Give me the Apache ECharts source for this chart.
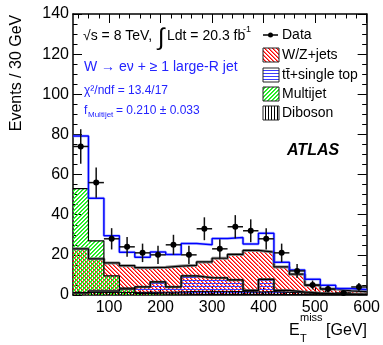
<!DOCTYPE html>
<html>
<head>
<meta charset="utf-8">
<script src="https://cdn.jsdelivr.net/npm/echarts@6/dist/echarts.min.js"></script>
<style>
html, body {margin: 0; padding: 0; background: #fff;}
#met_chart {width: 383px; height: 345px;}
</style>
</head>
<body>
<div id="met_chart"></div>
<script>
//*************** data (E_T^miss, 30 GeV bins) ***************
var bin_low = [30, 60, 90, 120, 150, 180, 210, 240, 270, 300, 330, 360, 390, 420, 450, 480, 510, 540, 570];
var bin_width = 30;
var data_events = [74, 56, 28, 24, 21, 20, 25, 20, 33, 23, 34, 32, 28, 21, 12, 5, 3, 1, 4];
var data_error = [8.6, 7.5, 5.3, 4.9, 4.6, 4.5, 5.0, 4.5, 5.7, 4.8, 5.8, 5.7, 5.3, 4.6, 3.5, 2.2, 1.7, 1.0, 2.0];
var wz_jets = [23, 18, 16, 14.6, 13.6, 13.8, 14.4, 14.8, 16.5, 18.3, 20.2, 22.2, 21.4, 14, 10.4, 4.8, 3, 2.1, 1.7];
var ttbar_top = [1, 2, 2, 3, 4, 6.5, 4, 9.5, 8.6, 8.5, 7.5, 2.3, 7.8, 2.3, 1.5, 1, 0.6, 0.5, 0.3];
var multijet = [53, 27, 9.5, 3.5, 0.8, 0.5, 0.5, 0.3, 0.3, 0.3, 0.3, 0.3, 0.3, 0.2, 0.2, 0.1, 0.1, 0.1, 0.1];
var diboson = [1.2, 1.2, 1.3, 1.3, 1.4, 1.4, 1.5, 1.8, 1.8, 1.8, 1.7, 1.5, 1.7, 1.3, 1, 0.7, 0.5, 0.3, 0.3];
var total_sm = [79.2, 48.2, 29.5, 21.3, 18.8, 21.4, 20.2, 25.7, 25, 28.1, 28.7, 25.4, 30.8, 16.3, 12.4, 7.8, 4.8, 3.2, 2.7];
var x_tick_labels = [100, 200, 300, 400, 500, 600];
var x_minor_ticks = [40, 60, 80, 120, 140, 160, 180, 220, 240, 260, 280, 320, 340, 360, 380, 420, 440, 460, 480, 520, 540, 560, 580];

var font = '"Liberation Sans", Arial, Helvetica, sans-serif';
var blue_txt = '#2424ff';

//*************** hatch patterns (pixel tiles) ***************
function make_hatch(rgb, kind, size, side_alpha) {
    var c = document.createElement('canvas');
    c.width = size;
    c.height = size;
    var ctx = c.getContext('2d');
    for (var i = 0; i < size; i++) {
        if (kind === 'h') {
            ctx.fillStyle = 'rgb(' + rgb + ')';
            ctx.fillRect(i, 1, 1, 1);
        } else if (kind === 'v') {
            ctx.fillStyle = 'rgb(' + rgb + ')';
            ctx.fillRect(1, i, 1, 1);
        } else {
            var y = kind === 'f' ? size - 1 - i : i;
            ctx.fillStyle = 'rgb(' + rgb + ')';
            ctx.fillRect(i, y, 1, 1);
            ctx.fillStyle = 'rgba(' + rgb + ',' + side_alpha + ')';
            ctx.fillRect((i + 1) % size, y, 1, 1);
        }
    }
    return {image: c, repeat: 'repeat'};
}

var pat_wz = make_hatch('255,0,0', 'b', 4, 0.55);
var pat_tt = make_hatch('60,60,255', 'h', 3);
var pat_mj = make_hatch('30,235,30', 'f', 4, 0.9);
var pat_db = make_hatch('0,0,0', 'v', 3);

//*************** series builders ***************
function hist_fill(values, pattern, z) {
    return {
        type: 'custom', z: z, silent: true, animation: false,
        data: bin_low.map(function (lo, i) { return [lo, lo + bin_width, values[i]]; }),
        encode: {x: [0, 1], y: 2},
        renderItem: function (params, api) {
            var p0 = api.coord([api.value(0), 0]);
            var p1 = api.coord([api.value(1), api.value(2)]);
            return {
                type: 'rect',
                shape: {x: p0[0], y: p1[1], width: p1[0] - p0[0], height: p0[1] - p1[1]},
                style: {fill: pattern}
            };
        }
    };
}

function hist_line(values, color, width, z) {
    var pts = bin_low.map(function (lo, i) { return [lo, values[i]]; });
    pts.push([bin_low[bin_low.length - 1] + bin_width, values[values.length - 1]]);
    return {
        type: 'line', step: 'end', data: pts, symbol: 'none', silent: true, z: z, animation: false,
        lineStyle: {color: color, width: width}
    };
}

var data_series = {
    type: 'custom', z: 20, silent: true, animation: false,
    data: bin_low.map(function (lo, i) { return [lo + bin_width / 2, data_events[i], data_error[i]]; }),
    encode: {x: 0, y: 1},
    renderItem: function (params, api) {
        var x = api.value(0), y = api.value(1), e = api.value(2);
        var c = api.coord([x, y]);
        var top = api.coord([x, y + e]);
        var bot = api.coord([x, Math.max(0, y - e)]);
        var l = api.coord([x - bin_width / 2, y]);
        var r = api.coord([x + bin_width / 2, y]);
        return {
            type: 'group',
            children: [
                {type: 'line', shape: {x1: c[0], y1: top[1], x2: c[0], y2: bot[1]}, style: {stroke: '#111', lineWidth: 1.5}},
                {type: 'line', shape: {x1: l[0], y1: c[1], x2: r[0], y2: c[1]}, style: {stroke: '#111', lineWidth: 1.5}},
                {type: 'circle', shape: {cx: c[0], cy: c[1], r: 3}, style: {fill: '#000'}}
            ]
        };
    }
};

//*************** axes ***************
function x_axis(pos, labels) {
    return [{
        type: 'value', position: pos, min: 30, max: 600,
        axisLine: {show: true, onZero: false, lineStyle: {color: '#000', width: 1.5}},
        axisTick: {inside: true, length: 9, customValues: x_tick_labels, lineStyle: {color: '#000', width: 1}},
        axisLabel: {show: labels, customValues: x_tick_labels, color: '#000', fontSize: 16, fontFamily: font, margin: 5},
        splitLine: {show: false}
    }, {
        type: 'value', position: pos, min: 30, max: 600,
        axisLine: {show: false, onZero: false},
        axisTick: {inside: true, length: 4.5, customValues: x_minor_ticks, lineStyle: {color: '#000', width: 1}},
        axisLabel: {show: false},
        splitLine: {show: false}
    }];
}

function y_axis(pos, labels) {
    return {
        type: 'value', position: pos, min: 0, max: 140, interval: 20,
        axisLine: {show: true, onZero: false, lineStyle: {color: '#000', width: 1.5}},
        axisTick: {inside: true, length: 9, lineStyle: {color: '#000', width: 1}},
        minorTick: {show: true, splitNumber: 4, length: 4.5, lineStyle: {color: '#000', width: 1}},
        axisLabel: {show: labels, color: '#000', fontSize: 16, fontFamily: font, margin: 4},
        splitLine: {show: false},
        minorSplitLine: {show: false}
    };
}

//*************** legend & labels ***************
function txt(x, y, s, size, color, extra) {
    var o = {
        type: 'text', x: x, y: y, z: 100,
        style: {text: s, fill: color || '#000', fontSize: size, fontFamily: font,
                textAlign: 'left', textVerticalAlign: 'middle', align: 'left', verticalAlign: 'middle'}
    };
    if (extra) { for (var k in extra) { o.style[k] = extra[k]; } }
    return o;
}

function legend_box(y, pattern, label) {
    return [
        {type: 'rect', shape: {x: 263, y: y, width: 16, height: 14}, style: {fill: pattern, stroke: '#222', lineWidth: 1}, z: 100},
        txt(282, y + 7.5, label, 14)
    ];
}

var graphics = [
    {type: 'text', x: 17, y: 73, rotation: Math.PI / 2, z: 100,
     style: {text: 'Events / 30 GeV', fill: '#000', fontSize: 16, fontFamily: font,
             textAlign: 'center', textVerticalAlign: 'middle', align: 'center', verticalAlign: 'middle'}},
    txt(289, 331, 'E', 16),
    txt(300, 318, 'miss', 11),
    txt(300, 339, 'T', 11),
    txt(326, 331, '[GeV]', 16),
    txt(83, 36, '\u221As = 8 TeV,', 14),
    txt(158, 38, '\u222B', 24),
    txt(167, 36, 'Ldt = 20.3 fb', 14),
    txt(243, 30, '-1', 9),
    txt(84, 67, 'W \u2192 e\u03BD + \u2265 1 large-R jet', 14, blue_txt),
    txt(84, 91, '\u03C7\u00B2/ndf = 13.4/17', 12, blue_txt),
    txt(84, 111, 'f', 12, blue_txt),
    txt(88, 115, 'Multijet', 8, blue_txt),
    txt(116, 111, '= 0.210 \u00B1 0.033', 12, blue_txt),
    txt(287, 151, 'ATLAS', 16, '#000', {fontWeight: 'bold', fontStyle: 'italic'}),
    {type: 'line', shape: {x1: 263, y1: 35, x2: 278, y2: 35}, style: {stroke: '#000', lineWidth: 1.5}, z: 100},
    {type: 'circle', shape: {cx: 270.5, cy: 35, r: 2.5}, style: {fill: '#000'}, z: 100},
    txt(282, 35, 'Data', 14)
].concat(
    legend_box(48, pat_wz, 'W/Z+jets'),
    legend_box(68, pat_tt, 't\u0074\u0304+single top'),
    legend_box(87, pat_mj, 'Multijet'),
    legend_box(106, pat_db, 'Diboson')
);

//*************** chart ***************
var met_chart = echarts.init(document.getElementById('met_chart'), null, {renderer: 'canvas'});

met_chart.setOption({
    animation: false,
    backgroundColor: '#fff',
    grid: {left: 73, right: 15, top: 14, bottom: 50, containLabel: false},
    xAxis: x_axis('bottom', true).concat(x_axis('top', false)),
    yAxis: [y_axis('left', true), y_axis('right', false)],
    series: [
        hist_fill(wz_jets, pat_wz, 2),
        hist_fill(ttbar_top, pat_tt, 3),
        hist_fill(multijet, pat_mj, 3),
        hist_fill(diboson, pat_db, 4),
        hist_line(wz_jets, '#888', 3, 5),
        hist_line(wz_jets, '#000', 1.2, 6),
        hist_line(ttbar_top, '#666', 2.5, 5),
        hist_line(ttbar_top, '#000', 1.2, 6),
        hist_line(multijet, '#000', 1.2, 6),
        hist_line(diboson, '#000', 1, 6),
        hist_line(total_sm, 'rgba(120,140,255,0.45)', 3, 7),
        hist_line(total_sm, '#0000ff', 1.5, 8),
        data_series
    ],
    graphic: graphics
});
</script>
</body>
</html>
